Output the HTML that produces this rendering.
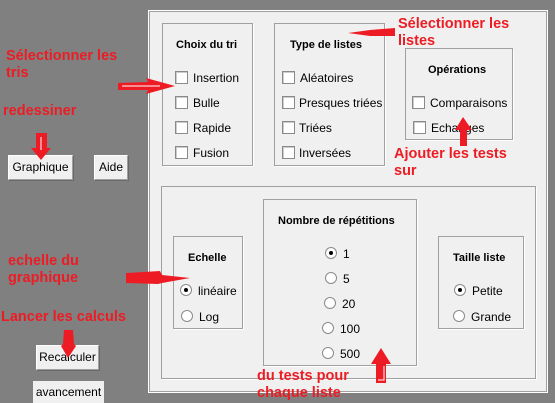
<!DOCTYPE html>
<html><head><meta charset="utf-8"><style>
*{margin:0;padding:0;box-sizing:border-box}
body{width:555px;height:403px;background:#808080;position:relative;overflow:hidden;font-family:"Liberation Sans",sans-serif;font-size:12px;color:#000}
.a{position:absolute}
.panel{background:#f0f0f0;border:1px solid #fff;box-shadow:inset 0 0 0 1px #a0a0a0}
.box{position:absolute;border:1px solid #a0a0a0;box-shadow:1px 1px 0 #fff}
.t{position:absolute;font-weight:bold;font-size:11px;white-space:nowrap}
.l{position:absolute;white-space:nowrap;line-height:14px}
.cb{position:absolute;width:13px;height:13px;background:#fff;border:1px solid #8a8a8a;box-shadow:inset 1px 1px 0 #ccc}
.rb{position:absolute;width:12px;height:12px;border-radius:50%;background:#fff;border:1px solid #8a8a8a}
.rb.on::after{content:"";position:absolute;left:3px;top:3px;width:4px;height:4px;border-radius:50%;background:#000}
.btn{position:absolute;background:#f0f0f0;border:1px solid #fff;border-right-color:#a0a0a0;border-bottom-color:#a0a0a0;box-shadow:1px 1px 0 #696969;text-align:center;line-height:23px}
.r{position:absolute;color:#ed1c24;font-weight:bold;font-size:14.5px;line-height:17px;white-space:nowrap}
</style></head><body>
<div class="a panel" style="left:148px;top:10px;width:400px;height:383px"></div>
<div class="a" style="left:161px;top:186px;width:375px;height:193px;border:1px solid #a0a0a0;box-shadow:1px 1px 0 #fff"></div>

<div class="box" style="left:162px;top:23px;width:91px;height:143px"></div>
<div class="t" style="left:176px;top:39px">Choix du tri</div>
<div class="cb" style="left:175px;top:71px"></div><div class="l" style="left:193px;top:71px">Insertion</div>
<div class="cb" style="left:175px;top:96px"></div><div class="l" style="left:193px;top:96px">Bulle</div>
<div class="cb" style="left:175px;top:121px"></div><div class="l" style="left:193px;top:121px">Rapide</div>
<div class="cb" style="left:175px;top:146px"></div><div class="l" style="left:193px;top:146px">Fusion</div>

<div class="box" style="left:274px;top:23px;width:111px;height:143px"></div>
<div class="t" style="left:290px;top:39px">Type de listes</div>
<div class="cb" style="left:282px;top:71px"></div><div class="l" style="left:300px;top:71px">Aléatoires</div>
<div class="cb" style="left:282px;top:96px"></div><div class="l" style="left:299px;top:96px">Presques triées</div>
<div class="cb" style="left:282px;top:121px"></div><div class="l" style="left:299px;top:121px">Triées</div>
<div class="cb" style="left:282px;top:146px"></div><div class="l" style="left:299px;top:146px">Inversées</div>

<div class="box" style="left:405px;top:48px;width:108px;height:92px"></div>
<div class="t" style="left:428px;top:64px">Opérations</div>
<div class="cb" style="left:412px;top:96px"></div><div class="l" style="left:430px;top:96px">Comparaisons</div>
<div class="cb" style="left:413px;top:121px"></div><div class="l" style="left:431px;top:121px">Echanges</div>

<div class="box" style="left:173px;top:236px;width:70px;height:93px"></div>
<div class="t" style="left:188px;top:252px">Echelle</div>
<div class="rb on" style="left:180px;top:284px"></div><div class="l" style="left:198px;top:284px">linéaire</div>
<div class="rb" style="left:181px;top:310px"></div><div class="l" style="left:199px;top:310px">Log</div>

<div class="box" style="left:263px;top:199px;width:154px;height:167px"></div>
<div class="t" style="left:278px;top:215px">Nombre de répétitions</div>
<div class="rb on" style="left:325px;top:247px"></div><div class="l" style="left:343px;top:247px">1</div>
<div class="rb" style="left:325px;top:272px"></div><div class="l" style="left:343px;top:272px">5</div>
<div class="rb" style="left:324px;top:297px"></div><div class="l" style="left:342px;top:297px">20</div>
<div class="rb" style="left:322px;top:322px"></div><div class="l" style="left:340px;top:322px">100</div>
<div class="rb" style="left:322px;top:347px"></div><div class="l" style="left:340px;top:347px">500</div>

<div class="box" style="left:438px;top:236px;width:86px;height:93px"></div>
<div class="t" style="left:453px;top:252px">Taille liste</div>
<div class="rb on" style="left:454px;top:284px"></div><div class="l" style="left:472px;top:284px">Petite</div>
<div class="rb" style="left:453px;top:310px"></div><div class="l" style="left:471px;top:310px">Grande</div>

<div class="btn" style="left:8px;top:155px;width:65px;height:25px">Graphique</div>
<div class="btn" style="left:94px;top:155px;width:34px;height:25px">Aide</div>
<div class="btn" style="left:36px;top:345px;width:63px;height:25px">Recalculer</div>
<div class="a" style="left:33px;top:381px;width:71px;height:22px;background:#f0f0f0;text-align:center;line-height:22px">avancement</div>

<div class="r" style="left:6px;top:48px">Sélectionner les<br>tris</div>
<div class="r" style="left:3px;top:103px">redessiner</div>
<div class="r" style="left:398px;top:16px">Sélectionner les<br>listes</div>
<div class="r" style="left:394px;top:146px">Ajouter les tests<br>sur</div>
<div class="r" style="left:8px;top:253px">echelle du<br>graphique</div>
<div class="r" style="left:1px;top:309px">Lancer les calculs</div>
<div class="r" style="left:257px;top:368px">du tests pour<br>chaque liste</div>

<svg class="a" style="left:0;top:0" width="555" height="403" viewBox="0 0 555 403">
<g fill="#ed1c24">
<path d="M118 83 L148 82 L146 78 L175 86 L146 94 L148 90 L118 90 Z"/>
<path d="M36 133 L47 133 L47 148 L51 148 L41 160 L31 148 L36 148 Z"/>
<path d="M395 28 L395 36 L370 36 L348 33 L370 30 Z"/>
<path d="M460 146 L467 146 L467 130 L472 130 L463 117 L455 130 L460 130 Z"/>
<path d="M126 273 L160 271 L162 275 L190 278 L162 283 L158 284 L126 283 Z"/>
<path d="M64 330 L73 330 L74 344 L76 346 L68 358 L61 346 L63 344 Z"/>
<path d="M376 383 L386 383 L386 364 L391 364 L381 348 L371 364 L376 364 Z"/>
</g>
<g fill="none" stroke="#fff" stroke-width="1">
<path d="M122 86 L160 86"/><path d="M41 137 L41 150"/><path d="M378 380 L384 380 L384 366"/>
</g>
</svg>
</body></html>
